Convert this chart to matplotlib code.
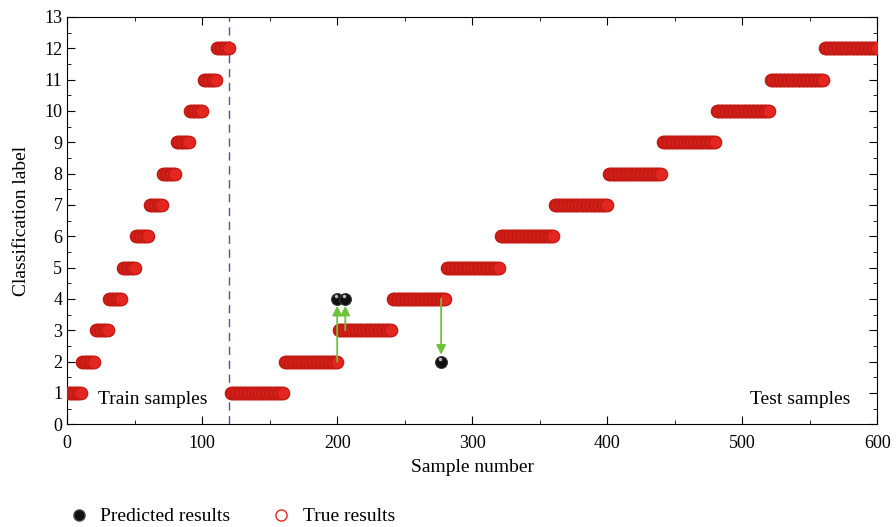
import numpy as np
import matplotlib
matplotlib.use("Agg")
import matplotlib.pyplot as plt
from matplotlib.lines import Line2D

plt.rcParams['font.family'] = ['Liberation Serif', 'DejaVu Serif']

# class labels and number of samples per class
class_labels = [1, 2, 3, 4, 5, 6, 7, 8, 9, 10, 11, 12]
train_per_class = 10
test_per_class = 40

# misclassified samples: (sample number, predicted label)
wrong_samples = [200, 206, 277]
wrong_preds = [4, 4, 2]

true_labels = np.concatenate([np.repeat(class_labels, train_per_class),
                              np.repeat(class_labels, test_per_class)])
samples = np.arange(1, len(true_labels) + 1)
pred_labels = true_labels.copy()
for s, p in zip(wrong_samples, wrong_preds):
    pred_labels[s - 1] = p

n_train = len(class_labels) * train_per_class

fig = plt.figure(figsize=(8.96, 5.27), dpi=100)
ax = fig.add_axes([0.075, 0.195, 0.904, 0.773])

ax.plot(samples, pred_labels, 'o', ms=8.5, mfc='#111111', mec='#444444', mew=0.6, zorder=3)
ax.plot(samples, true_labels, 'o', ms=9, mfc='#e3261f', mec='#c41a14', mew=0.8, zorder=4)

# predicted misclassified points on top
for s, p in zip(wrong_samples, wrong_preds):
    ax.plot(s, p, 'o', ms=8.5, mfc='#111111', mec='#444444', mew=0.6, zorder=6)
    ax.plot(s - 0.8, p + 0.08, 'o', ms=2.5, mfc='#bbbbbb', mec='none', zorder=7)
    t = true_labels[s - 1]
    d = 0.22 if p > t else -0.22
    ax.annotate('', xy=(s, p - d), xytext=(s, t),
                arrowprops=dict(arrowstyle='-|>', color='#6cc33a', lw=1.3,
                                mutation_scale=14, shrinkA=0, shrinkB=0), zorder=5)

ax.axvline(n_train, color='#4a55a8', ls=(0, (6, 4)), lw=1.0, zorder=2)

ax.text(23, 0.78, 'Train samples', fontsize=14, ha='left', va='center')
ax.text(580, 0.78, 'Test samples', fontsize=14, ha='right', va='center')

ax.set_xlim(0, 600)
ax.set_ylim(0, 13)
ax.set_xticks(np.arange(0, 601, 100))
ax.set_xticks(np.arange(0, 601, 50), minor=True)
ax.set_yticks(np.arange(0, 14, 1))
ax.set_yticks(np.arange(0, 13.1, 0.5), minor=True)
ax.tick_params(which='both', direction='in', top=True, right=True, labelsize=13)
ax.tick_params(axis='x', which='major', pad=8)
ax.tick_params(which='major', length=6)
ax.tick_params(which='minor', length=3)
ax.set_xlabel('Sample number', fontsize=14, labelpad=5)
ax.set_ylabel('Classification label', fontsize=14, labelpad=10)

handles = [Line2D([], [], ls='none', marker='o', ms=8, mfc='#111111', mec='#444444'),
           Line2D([], [], ls='none', marker='o', ms=8, mfc='none', mec='#e3261f')]
fig.legend(handles, ['Predicted results', 'True results'], loc='lower left',
           bbox_to_anchor=(0.047, -0.03), ncol=2, frameon=False, fontsize=14,
           handletextpad=0.1, columnspacing=1.6)

fig.savefig('out.png', dpi=100)
